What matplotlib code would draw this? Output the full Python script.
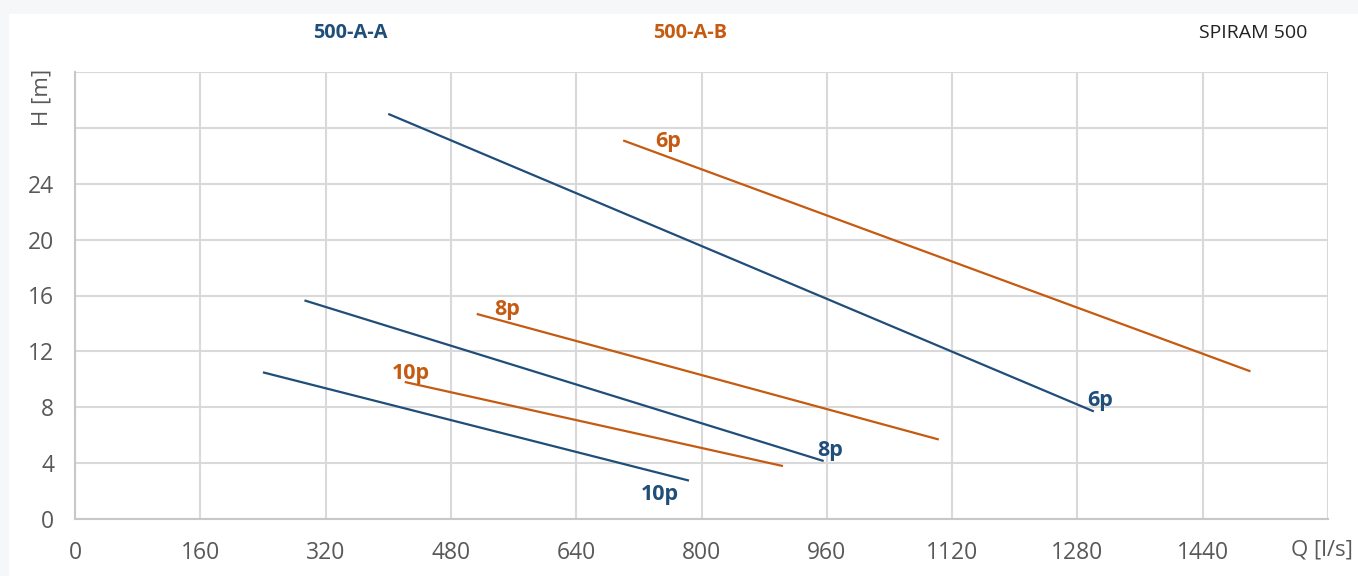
import matplotlib
matplotlib.use("Agg")
import matplotlib.pyplot as plt
from matplotlib.patches import Rectangle

plt.rcParams['font.family'] = ['Open Sans', 'DejaVu Sans']

# Pump curves: flow Q [l/s] and head H [m] at both ends of each curve
q_a_6p = [400, 1301]
h_a_6p = [29.0, 7.7]
q_a_8p = [293, 956]
h_a_8p = [15.65, 4.15]
q_a_10p = [240, 784]
h_a_10p = [10.5, 2.75]

q_b_6p = [700, 1501]
h_b_6p = [27.1, 10.57]
q_b_8p = [513, 1103]
h_b_8p = [14.68, 5.69]
q_b_10p = [421, 904]
h_b_10p = [9.81, 3.79]

# Curve labels: (text, Q, H) anchor of each label
labels_a = [("6p", 1309, 8.1), ("8p", 964, 4.5), ("10p", 747, 1.35)]
labels_b = [("6p", 758, 26.6), ("8p", 552, 14.57), ("10p", 429, 10.05)]

x_ticks = [0, 160, 320, 480, 640, 800, 960, 1120, 1280, 1440, 1600]
y_ticks = [0, 4, 8, 12, 16, 20, 24, 28, 32]
x_tick_labels = ["0", "160", "320", "480", "640", "800", "960", "1120", "1280", "1440", ""]
y_tick_labels = ["0", "4", "8", "12", "16", "20", "24", "", ""]

BLUE = "#1f4e79"
ORANGE = "#c55a11"
GRID = "#d9d9d9"
TICK = "#595959"

W, H = 1358, 576
fig = plt.figure(figsize=(W / 100, H / 100), dpi=100)
fig.patch.set_facecolor("#f5f7f9")
fig.patches.append(Rectangle((9 / W, 0), 1 - 9 / W, 1 - 14 / H,
                             transform=fig.transFigure, facecolor="white",
                             edgecolor="none", zorder=-10))

ax = fig.add_axes([75 / W, 57 / H, (1328 - 75) / W, (519 - 72) / H])
ax.set_facecolor("none")
ax.set_xlim(0, 1600)
ax.set_ylim(0, 32)
ax.set_xticks(x_ticks)
ax.set_xticklabels(x_tick_labels)
ax.set_yticks(y_ticks)
ax.set_yticklabels(y_tick_labels)
ax.tick_params(length=0, labelsize=16.5, labelcolor=TICK)
ax.tick_params(axis="x", pad=16)
ax.tick_params(axis="y", pad=15)
ax.grid(True, color=GRID, linewidth=1.5)
ax.set_axisbelow(True)
for side in ["top", "right"]:
    ax.spines[side].set_visible(False)
for side in ["left", "bottom"]:
    ax.spines[side].set_color("#c8c8c8")
    ax.spines[side].set_linewidth(1.5)

for q, h in [(q_a_6p, h_a_6p), (q_a_8p, h_a_8p), (q_a_10p, h_a_10p)]:
    ax.plot(q, h, color=BLUE, linewidth=1.6, solid_capstyle="butt")
for q, h in [(q_b_6p, h_b_6p), (q_b_8p, h_b_8p), (q_b_10p, h_b_10p)]:
    ax.plot(q, h, color=ORANGE, linewidth=1.6, solid_capstyle="butt")

for txt, x, y in labels_a:
    ax.text(x, y, txt, color=BLUE, fontsize=15.5, fontweight="bold",
            ha="center", va="baseline")
for txt, x, y in labels_b:
    ax.text(x, y, txt, color=ORANGE, fontsize=15.5, fontweight="bold",
            ha="center", va="baseline")

# Header texts
fig.text(350 / W, 1 - 33 / H, "500-A-A", color=BLUE, fontsize=14.3,
         fontweight="bold", ha="center", va="center")
fig.text(690 / W, 1 - 33 / H, "500-A-B", color=ORANGE, fontsize=14.3,
         fontweight="bold", ha="center", va="center")
fig.text(1253 / W, 1 - 33 / H, "SPIRAM 500", color="#222222", fontsize=14,
         ha="center", va="center")

# Axis titles
fig.text(42 / W, 1 - 97 / H, "H [m]", color=TICK, fontsize=16,
         rotation=90, ha="center", va="center")
fig.text(1322 / W, 1 - 550 / H, "Q [l/s]", color=TICK, fontsize=16,
         ha="center", va="center")

fig.savefig("out.png", dpi=100, facecolor=fig.get_facecolor())
